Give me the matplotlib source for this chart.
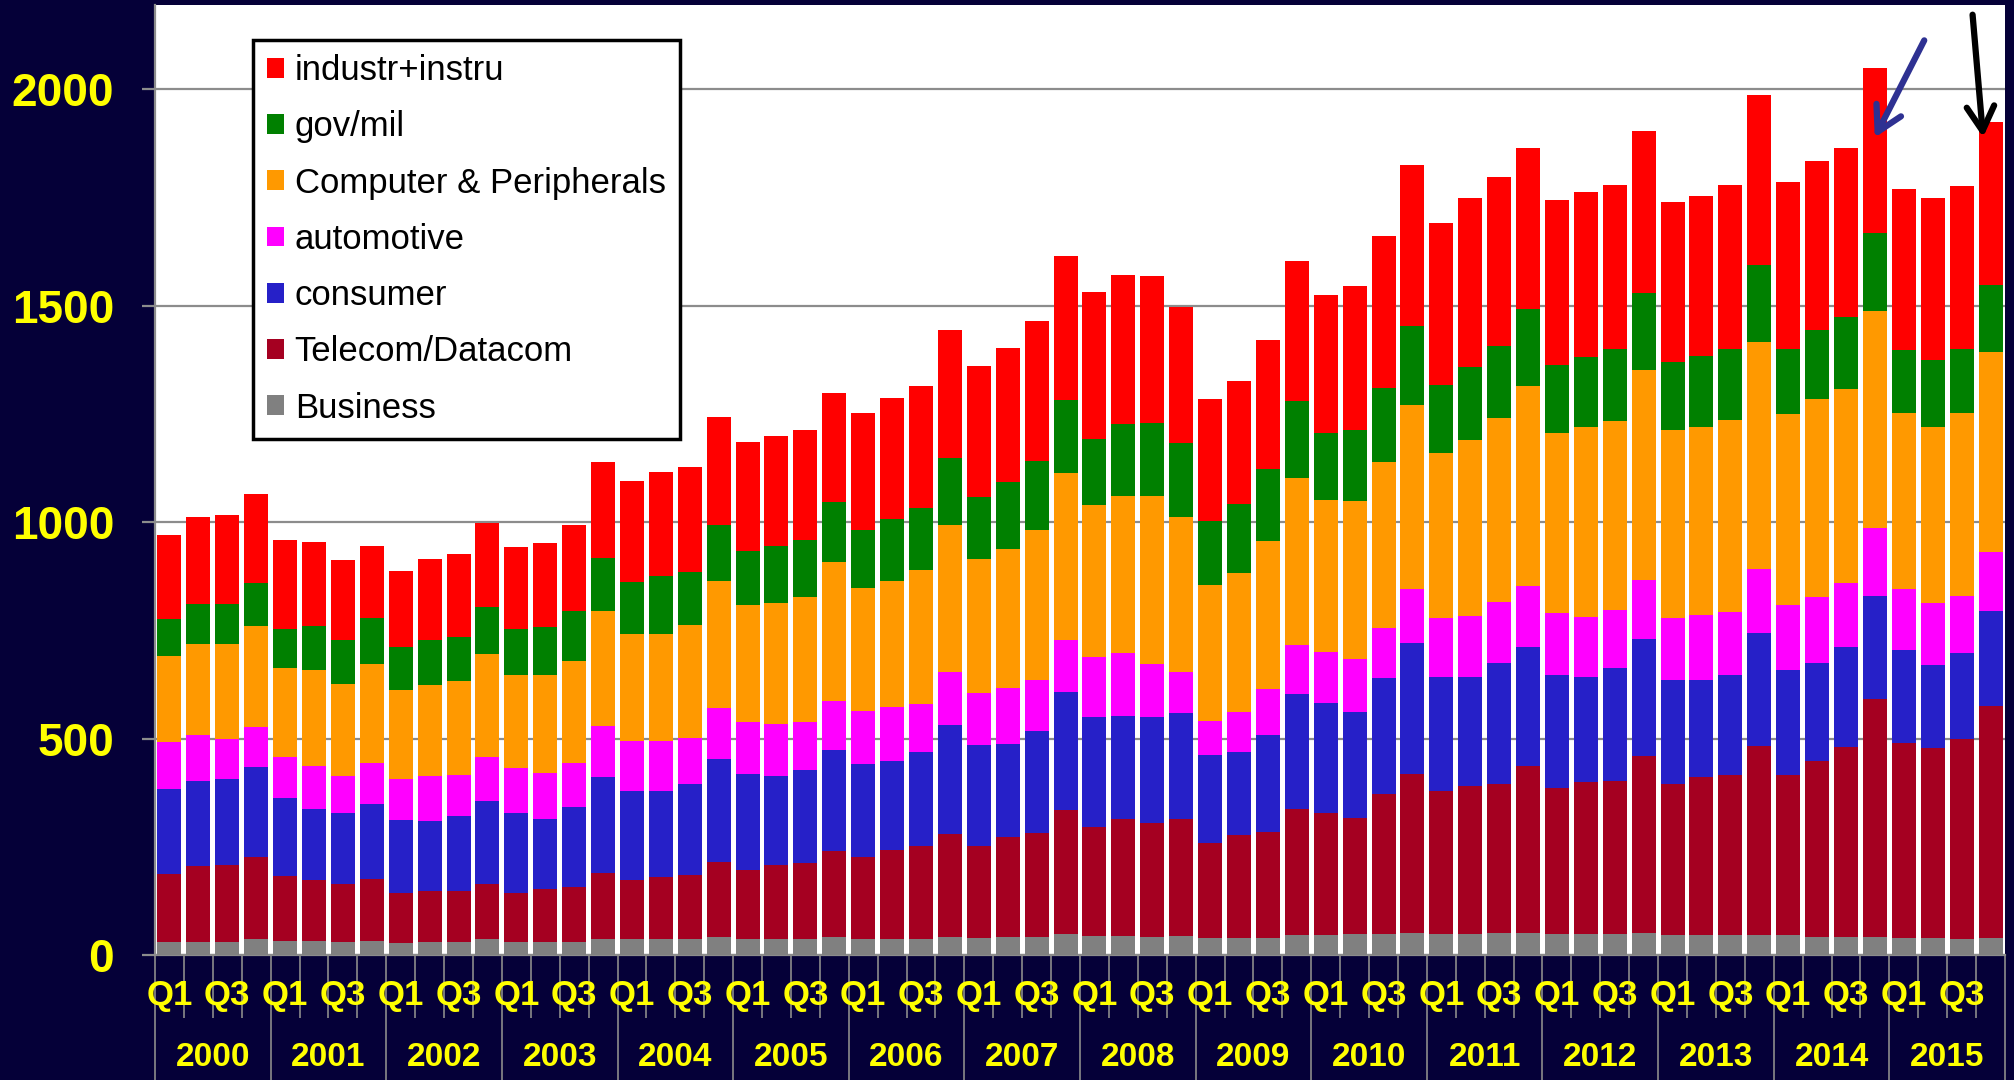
import matplotlib
matplotlib.use("Agg")
import matplotlib.pyplot as plt
import matplotlib.patches as mpatches
import matplotlib.transforms as mtransforms
import numpy as np

# quarterly values, 2000 Q1 .. 2015 Q4 (64 quarters)
years = [str(y) for y in range(2000, 2016)]
quarter_labels = ["Q1", "", "Q3", ""]

business = [29, 30, 30, 36, 32, 32, 30, 32, 27, 29, 29, 36, 29, 31, 31, 38,
            36, 36, 36, 41, 36, 38, 36, 41, 38, 38, 38, 42, 39, 42, 42, 48,
            44, 44, 42, 44, 40, 40, 40, 46, 46, 48, 48, 50, 48, 48, 50, 50,
            48, 48, 48, 50, 46, 46, 46, 46, 46, 42, 42, 42, 40, 40, 37, 40]
telecom = [158, 175, 179, 191, 151, 141, 133, 143, 116, 120, 118, 128, 114, 121, 125, 152,
           138, 144, 149, 174, 161, 171, 176, 199, 189, 205, 214, 237, 212, 231, 241, 286,
           251, 271, 263, 271, 219, 237, 245, 291, 283, 268, 323, 368, 330, 342, 346, 386,
           337, 351, 355, 410, 350, 365, 369, 437, 369, 406, 438, 550, 449, 439, 462, 535]
consumer = [197, 198, 197, 207, 179, 165, 166, 175, 168, 160, 175, 192, 185, 162, 186, 222,
            206, 198, 211, 237, 221, 204, 215, 233, 215, 206, 218, 253, 235, 215, 235, 274,
            255, 237, 245, 243, 202, 192, 224, 265, 254, 246, 268, 302, 264, 252, 278, 276,
            263, 243, 261, 271, 240, 225, 233, 262, 243, 226, 232, 238, 215, 192, 198, 219]
automotive = [107, 105, 92, 92, 96, 99, 85, 93, 95, 104, 95, 102, 105, 107, 101, 116,
              115, 117, 106, 118, 120, 121, 111, 115, 121, 123, 110, 121, 119, 130, 118, 120,
              138, 146, 123, 95, 80, 93, 106, 115, 116, 121, 117, 126, 136, 142, 141, 141,
              142, 140, 132, 136, 142, 150, 145, 147, 151, 153, 148, 156, 142, 142, 133, 136]
computer = [199, 210, 220, 235, 204, 221, 213, 229, 207, 211, 216, 237, 215, 225, 236, 266,
            246, 246, 261, 295, 271, 279, 290, 320, 286, 293, 310, 341, 311, 321, 347, 385,
            351, 363, 388, 359, 313, 321, 342, 385, 353, 367, 384, 424, 381, 407, 425, 461,
            415, 437, 437, 484, 434, 433, 444, 524, 440, 458, 448, 503, 406, 408, 422, 464]
govmil = [86, 93, 93, 98, 92, 102, 100, 107, 98, 103, 101, 108, 106, 111, 115, 123,
          121, 134, 121, 128, 124, 131, 130, 138, 132, 142, 142, 154, 142, 153, 159, 169,
          154, 167, 169, 171, 148, 159, 165, 179, 155, 162, 171, 183, 159, 168, 168, 179,
          158, 163, 167, 179, 158, 165, 163, 178, 151, 159, 167, 180, 146, 154, 148, 155]
industr = [194, 202, 205, 207, 204, 195, 185, 166, 176, 187, 192, 194, 188, 194, 199, 222,
           234, 242, 243, 250, 252, 256, 254, 253, 272, 279, 282, 296, 302, 311, 322, 333,
           339, 344, 339, 315, 282, 284, 299, 322, 319, 333, 350, 372, 374, 390, 389, 371,
           382, 382, 378, 374, 370, 370, 378, 394, 387, 390, 389, 381, 371, 373, 376, 375]

series = [
    ("Business", business, "#808080"),
    ("Telecom/Datacom", telecom, "#A50021"),
    ("consumer", consumer, "#2620C8"),
    ("automotive", automotive, "#FF00FF"),
    ("Computer & Peripherals", computer, "#FF9900"),
    ("gov/mil", govmil, "#008000"),
    ("industr+instru", industr, "#FF0000"),
]

NAVY = "#050038"
YELLOW = "#FFFF00"
GRID = "#8C8C8C"
plt.rcParams["font.family"] = ["Liberation Sans", "Arial", "DejaVu Sans"]

fig = plt.figure(figsize=(20.15, 10.8), dpi=100, facecolor=NAVY)
ax = fig.add_axes([155 / 2015, 1 - 955 / 1080, 1850 / 2015, 950 / 1080])
ax.set_facecolor("white")

n = len(business)
x = np.arange(n)
bottom = np.zeros(n)
handles = []
for name, vals, color in series:
    ax.bar(x, vals, width=0.83, bottom=bottom, color=color, linewidth=0, zorder=3)
    bottom += np.array(vals)
    handles.append(mpatches.Patch(facecolor=color, label=name))

ax.set_xlim(-0.5, n - 0.5)
ax.set_ylim(0, 2195)

# y axis
ax.set_yticks([0, 500, 1000, 1500, 2000])
ax.grid(True, axis="y", color=GRID, linewidth=1.6, zorder=0)
ax.tick_params(axis="y", length=9.5, width=1.6, color=GRID, pad=20,
               labelsize=33, labelcolor=YELLOW)
for lab in ax.get_yticklabels():
    lab.set_fontweight("bold")

for s in ["top", "right"]:
    ax.spines[s].set_visible(False)
for s in ["left", "bottom"]:
    ax.spines[s].set_color(GRID)
    ax.spines[s].set_linewidth(1.6)

# x axis: quarter boundaries (short) and year separators (long)
ax.set_xticks(np.arange(-0.5, n, 4))
ax.set_xticks(np.arange(-0.5, n, 1), minor=True)
ax.tick_params(axis="x", which="major", length=90, width=1.2, color=GRID,
               labelbottom=False)
ax.tick_params(axis="x", which="minor", length=45, width=1.2, color=GRID)

trans = mtransforms.blended_transform_factory(ax.transData, ax.transAxes)
for i in range(n):
    q = quarter_labels[i % 4]
    if q:
        ax.text(i, -0.043, q, transform=trans, ha="center", va="center",
                fontsize=25, fontweight="bold", color=YELLOW, clip_on=False)
for k, yr in enumerate(years):
    ax.text(4 * k + 1.5, -0.108, yr, transform=trans, ha="center", va="center",
            fontsize=24, fontweight="bold", color=YELLOW, clip_on=False)

# legend, top of the stack first
leg = ax.legend(handles=handles[::-1], loc="upper left", bbox_to_anchor=(0.053, 0.963),
                borderaxespad=0, fontsize=25, fancybox=False, framealpha=1,
                edgecolor="black", handlelength=0.5, handleheight=0.5,
                handletextpad=0.3, labelspacing=0.67, borderpad=0.4)
leg.get_frame().set_linewidth(2.5)
leg.set_zorder(5)

# hand-drawn arrows pointing at 2014 Q4 and 2015 Q4
arrow = "->,head_length=0.8,head_width=0.45"
ax.annotate("", xy=(58.95, 1883), xytext=(60.75, 2119),
            arrowprops=dict(arrowstyle=arrow, color="#2E3192", lw=4.5, mutation_scale=22),
            zorder=6, annotation_clip=False)
ax.annotate("", xy=(62.75, 1883), xytext=(62.37, 2179),
            arrowprops=dict(arrowstyle=arrow, color="black", lw=4.5, mutation_scale=22),
            zorder=6, annotation_clip=False)

fig.savefig("out.png", dpi=100, facecolor=NAVY)
